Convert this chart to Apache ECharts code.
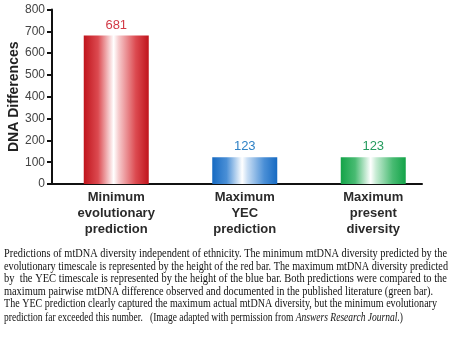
<!DOCTYPE html>
<html><head><meta charset="utf-8">
<script src="https://cdn.jsdelivr.net/npm/echarts@6/dist/echarts.min.js"></script>
<style>html,body{margin:0;padding:0;background:#fff}#c{width:451px;height:360px}</style>
</head><body><div id="c"></div>
<script>
const categories = ['Minimum\nevolutionary\nprediction', 'Maximum\nYEC\nprediction', 'Maximum\npresent\ndiversity'];
const values = [681, 123, 123];
const yTicks = [0, 100, 200, 300, 400, 500, 600, 700, 800];
const captionLines = [
  'Predictions of mtDNA diversity independent of ethnicity. The minimum mtDNA diversity predicted by the',
  'evolutionary timescale is represented by the height of the red bar. The maximum mtDNA diversity predicted',
  'by  the YEC timescale is represented by the height of the blue bar. Both predictions were compared to the',
  'maximum pairwise mtDNA difference observed and documented in the published literature (green bar).',
  'The YEC prediction clearly captured the maximum actual mtDNA diversity, but the minimum evolutionary'
];
const captionLast = ['prediction far exceeded this number.   (Image adapted with permission from ', 'Answers Research Journal.', ')'];

const palettes = [
  {edge:'#c0141c', mid:'#dc4a50', light:'#f6c9cb', label:'#d23a46'},
  {edge:'#166ac2', mid:'#4a8fd6', light:'#c9def4', label:'#2f82c6'},
  {edge:'#13a348', mid:'#48bb72', light:'#c8ecd5', label:'#259b5e'}
];
function grad(p){
  return new echarts.graphic.LinearGradient(0,0,1,0,[
    {offset:0,color:p.edge},{offset:0.22,color:p.mid},{offset:0.46,color:'#ffffff'},
    {offset:0.54,color:p.light},{offset:0.8,color:p.mid},{offset:1,color:p.edge}]);
}

const chart = echarts.init(document.getElementById('c'));
const cv = document.createElement('canvas').getContext('2d');
const serif = '"Liberation Serif", "Times New Roman", serif';
const fs = 11.5;
function w(t, italic){ cv.font = (italic?'italic ':'') + fs + 'px ' + serif; return cv.measureText(t).width; }
const targets = [443, 444, 443, 429, 433];
const ys = [254, 266.7, 279.2, 291.7, 304.3];
const graphics = captionLines.map((t,i)=>({
  type:'text', left:4, top: ys[i]-6, scaleX: targets[i]/w(t), 
  style:{text:t, font: fs+'px '+serif, fill:'#111'}
}));
const lastW = w(captionLast[0]) + w(captionLast[1], true) + w(captionLast[2]);
graphics.push({
  type:'text', left:4, top:317.5-6, scaleX: 399/lastW,
  style:{text:'{a|'+captionLast[0]+'}{b|'+captionLast[1]+'}{a|'+captionLast[2]+'}',
    rich:{a:{fontSize:fs, fontFamily:serif, fill:'#111', color:'#111'},
          b:{fontSize:fs, fontFamily:serif, fontStyle:'italic', fill:'#111', color:'#111'}}}
});

chart.setOption({
  animation:false,
  grid:[
    {left:52, top:9.5, width:385.5, height:174.5, containLabel:false, outerBoundsMode:'none'},
    {left:52, top:9.5, width:370, height:174.5, containLabel:false, outerBoundsMode:'none'}
  ],
  xAxis:[
    {type:'category', gridIndex:0, data:categories,
     axisLine:{show:false}, axisTick:{show:false},
     axisLabel:{interval:0, color:'#2a2a2a', fontFamily:'"Liberation Sans", Arial, sans-serif', fontWeight:'bold', fontSize:13, lineHeight:16, margin:5}},
    {type:'value', gridIndex:1, min:0, max:1, axisLine:{show:true, lineStyle:{color:'#111', width:2}},
     axisTick:{show:false}, axisLabel:{show:false}, splitLine:{show:false}}
  ],
  yAxis:[
    {type:'value', gridIndex:0, min:yTicks[0], max:yTicks[yTicks.length-1], interval:100,
     name:'DNA Differences', nameLocation:'middle', nameGap:31, nameMoveOverlap:false,
     nameTextStyle:{fontFamily:'"Liberation Sans", Arial, sans-serif', fontWeight:'bold', fontSize:14, color:'#222'},
     axisLine:{show:true, lineStyle:{color:'#111', width:2}},
     axisTick:{show:true, length:5, lineStyle:{color:'#111', width:2}},
     axisLabel:{color:'#444', fontFamily:'"Liberation Sans", Arial, sans-serif', fontSize:12, margin:7},
     splitLine:{show:false}},
    {type:'value', gridIndex:1, min:0, max:800, show:false}
  ],
  series:[{
    type:'bar', xAxisIndex:0, yAxisIndex:0, barWidth:65,
    data: values.map((v,i)=>({value:v, itemStyle:{color:grad(palettes[i])},
      label:{color:palettes[i].label}})),
    label:{show:true, position:'top', distance:4, fontFamily:'"Liberation Sans", Arial, sans-serif', fontSize:13}
  }],
  graphic: graphics
});
</script></body></html>
